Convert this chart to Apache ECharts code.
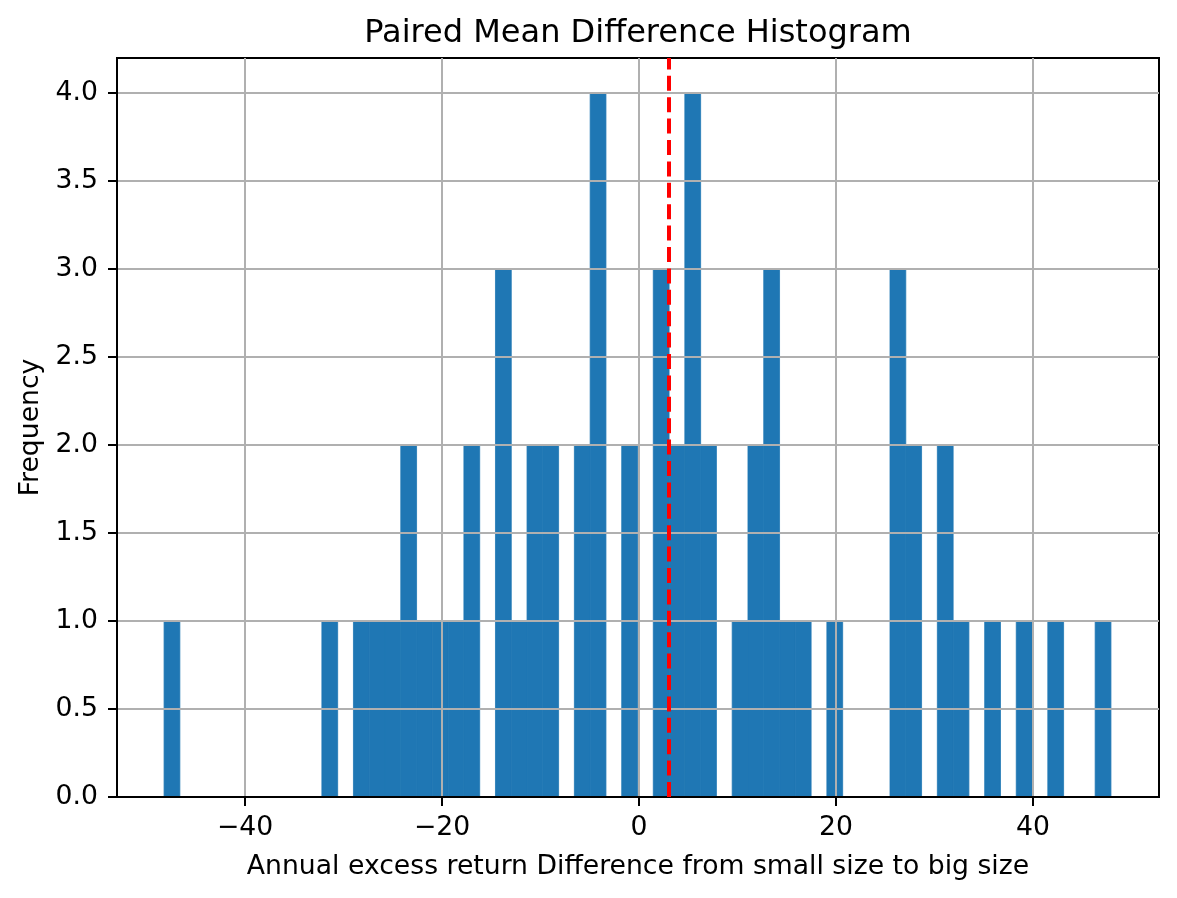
<!DOCTYPE html>
<html>
<head>
<meta charset="utf-8">
<script src="https://cdn.jsdelivr.net/npm/echarts@6/dist/echarts.min.js"></script>
<style>
html,body{margin:0;padding:0;background:#fff;}
#chart{width:1177px;height:898px;}
</style>
</head>
<body>
<div id="chart"></div>
<script>
// Histogram data (60 bins)
const binStart = -48.22;
const binEnd = 47.92;
const counts = [
  1,0,0,0,0,0,0,0,0,0,
  1,0,1,1,1,2,1,1,1,2,
  0,3,1,2,2,0,2,4,0,2,
  0,3,2,4,2,0,1,2,3,1,
  1,0,1,0,0,0,3,2,0,2,
  1,0,1,0,1,0,1,0,0,1
];
const meanDiff = 3.05;
const xTicks = [-40, -20, 0, 20, 40];
const yTicks = [0, 0.5, 1, 1.5, 2, 2.5, 3, 3.5, 4];
const titleText = 'Paired Mean Difference Histogram';
const xLabel = 'Annual excess return Difference from small size to big size';
const yLabel = 'Frequency';

const nBins = counts.length;
const binW = (binEnd - binStart) / nBins;
const bins = counts.map((c, i) => [binStart + i * binW, binStart + (i + 1) * binW, c]);

const FONT = 'DejaVu Sans';
const FS = 26.67;
const chart = echarts.init(document.getElementById('chart'), null, {renderer: 'canvas'});
chart.setOption({
  animation: false,
  backgroundColor: '#ffffff',
  title: {
    text: titleText,
    left: 638,
    textAlign: 'center',
    top: 18,
    padding: 0,
    textStyle: {fontFamily: FONT, fontSize: 32, fontWeight: 'normal', color: '#000'}
  },
  grid: {
    left: 117, right: 18, top: 58, bottom: 101,
    show: true, borderColor: '#000', borderWidth: 2, backgroundColor: 'transparent'
  },
  xAxis: {
    type: 'value',
    min: -53.0, max: 52.8,
    splitNumber: 5,
    name: xLabel,
    nameLocation: 'middle',
    nameGap: 57,
    nameTextStyle: {fontFamily: FONT, fontSize: FS, color: '#000'},
    axisLine: {show: true, onZero: false, lineStyle: {color: '#000', width: 2}},
    axisTick: {show: true, length: 9, lineStyle: {color: '#000', width: 2}, customValues: xTicks},
    axisLabel: {
      fontFamily: FONT, fontSize: FS, color: '#000', margin: 18,
      customValues: xTicks,
      formatter: v => String(v).replace('-', '\u2212')
    },
    splitLine: {show: true, lineStyle: {color: '#b0b0b0', width: 2}}
  },
  yAxis: {
    type: 'value',
    min: 0, max: 4.2, interval: 0.5,
    name: yLabel,
    nameLocation: 'middle',
    nameGap: 65,
    nameTextStyle: {fontFamily: FONT, fontSize: FS, color: '#000'},
    axisLine: {show: true, onZero: false, lineStyle: {color: '#000', width: 2}},
    axisTick: {show: true, length: 9, lineStyle: {color: '#000', width: 2}, customValues: yTicks},
    axisLabel: {
      fontFamily: FONT, fontSize: FS, color: '#000', margin: 19,
      customValues: yTicks,
      formatter: v => v.toFixed(1)
    },
    splitLine: {show: true, lineStyle: {color: '#b0b0b0', width: 2}}
  },
  series: [{
    type: 'custom',
    z: -1,
    data: bins,
    encode: {x: [0, 1], y: 2},
    renderItem: function (params, api) {
      const h = api.value(2);
      if (!h) return null;
      const p0 = api.coord([api.value(0), 0]);
      const p1 = api.coord([api.value(1), h]);
      return {
        type: 'rect',
        shape: {x: p0[0], y: p1[1], width: p1[0] - p0[0], height: p0[1] - p1[1]},
        style: {fill: '#1f77b4', stroke: '#1f77b4', lineWidth: 0.8}
      };
    },
    markLine: {
      silent: true,
      symbol: 'none',
      label: {show: false},
      lineStyle: {color: '#ff0000', type: [15, 6.4], width: 4},
      data: [{xAxis: meanDiff}]
    }
  }]
});
</script>
</body>
</html>
